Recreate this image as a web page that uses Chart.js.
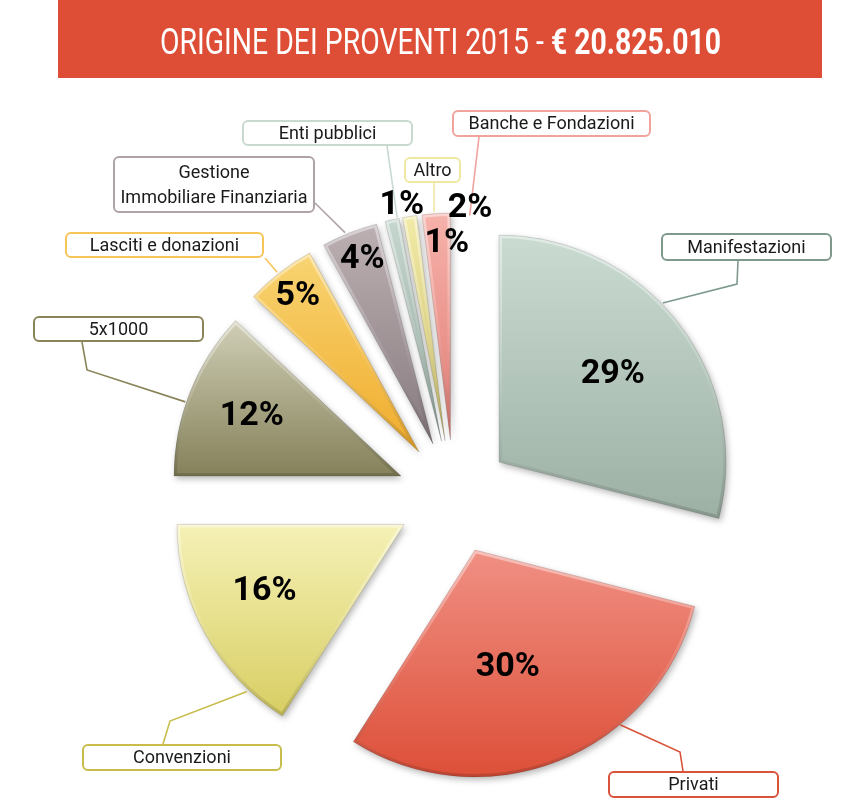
<!DOCTYPE html>
<html><head><meta charset="utf-8">
<script src="https://cdn.jsdelivr.net/npm/chart.js@4.4.1/dist/chart.umd.min.js"></script>
<style>
html,body{margin:0;padding:0;background:#fff;}
#wrap{position:relative;width:847px;height:801px;overflow:hidden;}
canvas{position:absolute;left:0;top:0;}
</style>
</head><body>
<div id="wrap"><canvas id="c" width="847" height="801"></canvas></div>
<script>
// ---------- data ----------
const titleText = 'ORIGINE DEI PROVENTI 2015 - ';
const titleAmount = '€ 20.825.010';
const categories = ['Manifestazioni', 'Privati', 'Convenzioni', '5x1000', 'Lasciti e donazioni',
  ['Gestione', 'Immobiliare Finanziaria'], 'Enti pubblici', 'Altro', 'Banche e Fondazioni'];
const shares = [29, 30, 16, 12, 5, 4, 1, 1, 2];
const pctLabels = ['29%', '30%', '16%', '12%', '5%', '4%', '1%', '1%', '2%'];

// ---------- styles ----------
const topColors    = ['#cadcd2', '#f09084', '#f5f1b6', '#d0ceb6', '#f8d472', '#bcb0b3', '#c6d7cf', '#f2eba8', '#f6b2ab'];
const bottomColors = ['#9db0a4', '#dd4f38', '#d8ce63', '#85815a', '#f0ac2c', '#877a7e', '#8fa59a', '#c9bd68', '#e07c73'];
const boxColors    = ['#7f9a8c', '#d9533b', '#c8bd4c', '#8a8459', '#f6c55a', '#b0a3a7', '#c8dad0', '#f0e8a2', '#f0a49d'];

// ---------- layout ----------
const EXPLODE = 57;
const RADIUS = 227;
// [distance from pie centre, angle shift in degrees from the slice middle]
const pctLayout = [[201, 0], [178, 4], [211, 2.6], [218, 0.4], [255, 0], [256, 0.6], [297, 2.5], [255, 7.4], [290, 6.8]];
// callouts: box [x,y,w,h], anchor [angle deg from top, distance from centre], elbow points
const calloutLayout = [
  {box: [661, 233, 171, 28], anchor: [47.1, 285], path: [[737, 284], [738, 261]]},
  {box: [608, 771, 171, 27], anchor: [143.9, 282], path: [[680, 752], [683, 771]]},
  {box: [82, 744, 200, 27], anchor: [226.8, 284], path: [[170, 721], [163, 744]]},
  {box: [33, 316, 171, 26], anchor: [289.5, 285], path: [[87, 370], [82, 342]]},
  {box: [65, 232, 199, 26], anchor: [321.8, 286], path: [[265, 258]]},
  {box: [113, 156, 202, 57], anchor: [337.6, 286], path: [[315, 203]]},
  {box: [242, 120, 171, 26], anchor: [348.5, 285], path: [[387, 146]]},
  {box: [404, 157, 57, 26], anchor: [356, 286], path: [[434, 183]]},
  {box: [452, 110, 199, 27], anchor: [3.2, 282], path: [[479, 137]]}
];

function rr(ctx, x, y, w, h, r) {
  ctx.beginPath();
  ctx.moveTo(x + r, y);
  ctx.lineTo(x + w - r, y); ctx.arcTo(x + w, y, x + w, y + r, r);
  ctx.lineTo(x + w, y + h - r); ctx.arcTo(x + w, y + h, x + w - r, y + h, r);
  ctx.lineTo(x + r, y + h); ctx.arcTo(x, y + h, x, y + h - r, r);
  ctx.lineTo(x, y + r); ctx.arcTo(x, y, x + r, y, r);
  ctx.closePath();
}

const explodedPie = {
  id: 'explodedPie',
  beforeDatasetDraw(chart, args) {
    const ctx = chart.ctx;
    const meta = chart.getDatasetMeta(args.index);
    meta.data.forEach((arc, i) => {
      const {x, y, startAngle, endAngle, outerRadius} = arc.getProps(['x', 'y', 'startAngle', 'endAngle', 'outerRadius'], true);
      const mid = (startAngle + endAngle) / 2;
      let minY = y, maxY = y;
      for (let k = 0; k <= 40; k++) {
        const a = startAngle + (endAngle - startAngle) * k / 40;
        const py = y + Math.sin(a) * outerRadius;
        minY = Math.min(minY, py); maxY = Math.max(maxY, py);
      }
      const g = ctx.createLinearGradient(0, minY, 0, maxY);
      g.addColorStop(0, topColors[i]);
      g.addColorStop(1, bottomColors[i]);
      ctx.save();
      ctx.translate(Math.cos(mid) * EXPLODE, Math.sin(mid) * EXPLODE);
      ctx.shadowColor = 'rgba(0,0,0,0.28)';
      ctx.shadowBlur = 6;
      ctx.shadowOffsetX = 2;
      ctx.shadowOffsetY = 3;
      const o = arc.options;
      arc.options = Object.assign({}, o, {backgroundColor: g, borderWidth: 0});
      arc.draw(ctx);
      arc.options = o;
      ctx.shadowColor = 'transparent';
      // bevel rim
      ctx.beginPath();
      ctx.moveTo(x, y);
      ctx.arc(x, y, outerRadius, startAngle, endAngle);
      ctx.closePath();
      ctx.save();
      ctx.clip();
      const hg = ctx.createLinearGradient(0, minY, 0, maxY);
      hg.addColorStop(0, 'rgba(255,255,255,0.45)');
      hg.addColorStop(0.5, 'rgba(255,255,255,0.12)');
      hg.addColorStop(1, 'rgba(0,0,0,0.15)');
      ctx.lineWidth = 6;
      ctx.strokeStyle = hg;
      ctx.stroke();
      ctx.restore();
      ctx.lineWidth = 1;
      ctx.strokeStyle = 'rgba(0,0,0,0.12)';
      ctx.stroke();
      ctx.restore();
    });
    return false;
  },
  afterDraw(chart) {
    const ctx = chart.ctx;
    const meta = chart.getDatasetMeta(0);
    const area = chart.chartArea;
    const cx = (area.left + area.right) / 2, cy = (area.top + area.bottom) / 2;
    const pol = (deg, r) => {
      const a = (deg - 90) * Math.PI / 180;
      return [cx + Math.cos(a) * r, cy + Math.sin(a) * r];
    };
    // title banner
    ctx.save();
    ctx.fillStyle = '#de4e36';
    ctx.fillRect(58, 0, 764, 78);
    ctx.fillStyle = '#ffffff';
    ctx.textBaseline = 'alphabetic';
    const fReg = '400 36px Roboto', fBold = '700 36px Roboto';
    ctx.font = fReg; const w1 = ctx.measureText(titleText).width;
    ctx.font = fBold; const w2 = ctx.measureText(titleAmount).width;
    const sx = 561 / (w1 + w2);
    ctx.translate(440.5, 54);
    ctx.scale(sx, 1);
    ctx.font = fReg; ctx.textAlign = 'left';
    ctx.fillText(titleText, -(w1 + w2) / 2, 0);
    ctx.font = fBold;
    ctx.fillText(titleAmount, -(w1 + w2) / 2 + w1, 0);
    ctx.restore();

    // callouts
    meta.data.forEach((arc, i) => {
      const L = calloutLayout[i];
      const [bx, by, bw, bh] = L.box;
      ctx.save();
      ctx.strokeStyle = boxColors[i];
      ctx.lineWidth = 1.6;
      ctx.beginPath();
      const p0 = pol(L.anchor[0], L.anchor[1]);
      ctx.moveTo(p0[0], p0[1]);
      L.path.forEach(p => ctx.lineTo(p[0], p[1]));
      ctx.stroke();
      rr(ctx, bx + 1, by + 1, bw - 2, bh - 2, 5);
      ctx.fillStyle = '#ffffff';
      ctx.fill();
      ctx.lineWidth = 2;
      ctx.stroke();
      ctx.fillStyle = '#1a1a1a';
      ctx.font = '400 18px Roboto';
      ctx.textAlign = 'center';
      ctx.textBaseline = 'middle';
      const lab = chart.data.labels[i];
      const lines = Array.isArray(lab) ? lab : [lab];
      const lh = 25;
      lines.forEach((t, k) => {
        ctx.fillText(t, bx + bw / 2, by + bh / 2 + 1 + (k - (lines.length - 1) / 2) * lh);
      });
      ctx.restore();
    });

    // percentages
    meta.data.forEach((arc, i) => {
      const midDeg = ((arc.startAngle + arc.endAngle) / 2) * 180 / Math.PI + 90;
      const [r, da] = pctLayout[i];
      const p = pol(midDeg + da, r);
      ctx.save();
      ctx.fillStyle = '#000000';
      ctx.font = '700 34px Roboto';
      ctx.textAlign = 'center';
      ctx.textBaseline = 'middle';
      ctx.fillText(pctLabels[i], p[0], p[1] + 1);
      ctx.restore();
    });
  }
};

new Chart(document.getElementById('c'), {
  type: 'pie',
  data: {
    labels: categories,
    datasets: [{
      data: shares,
      backgroundColor: bottomColors,
      borderWidth: 0,
      radius: RADIUS
    }]
  },
  options: {
    responsive: false,
    animation: false,
    events: [],
    layout: {padding: {left: 61, right: 0, top: 193, bottom: 0}},
    plugins: {legend: {display: false}, tooltip: {enabled: false}, title: {display: false}}
  },
  plugins: [explodedPie]
});
</script>
</body></html>
